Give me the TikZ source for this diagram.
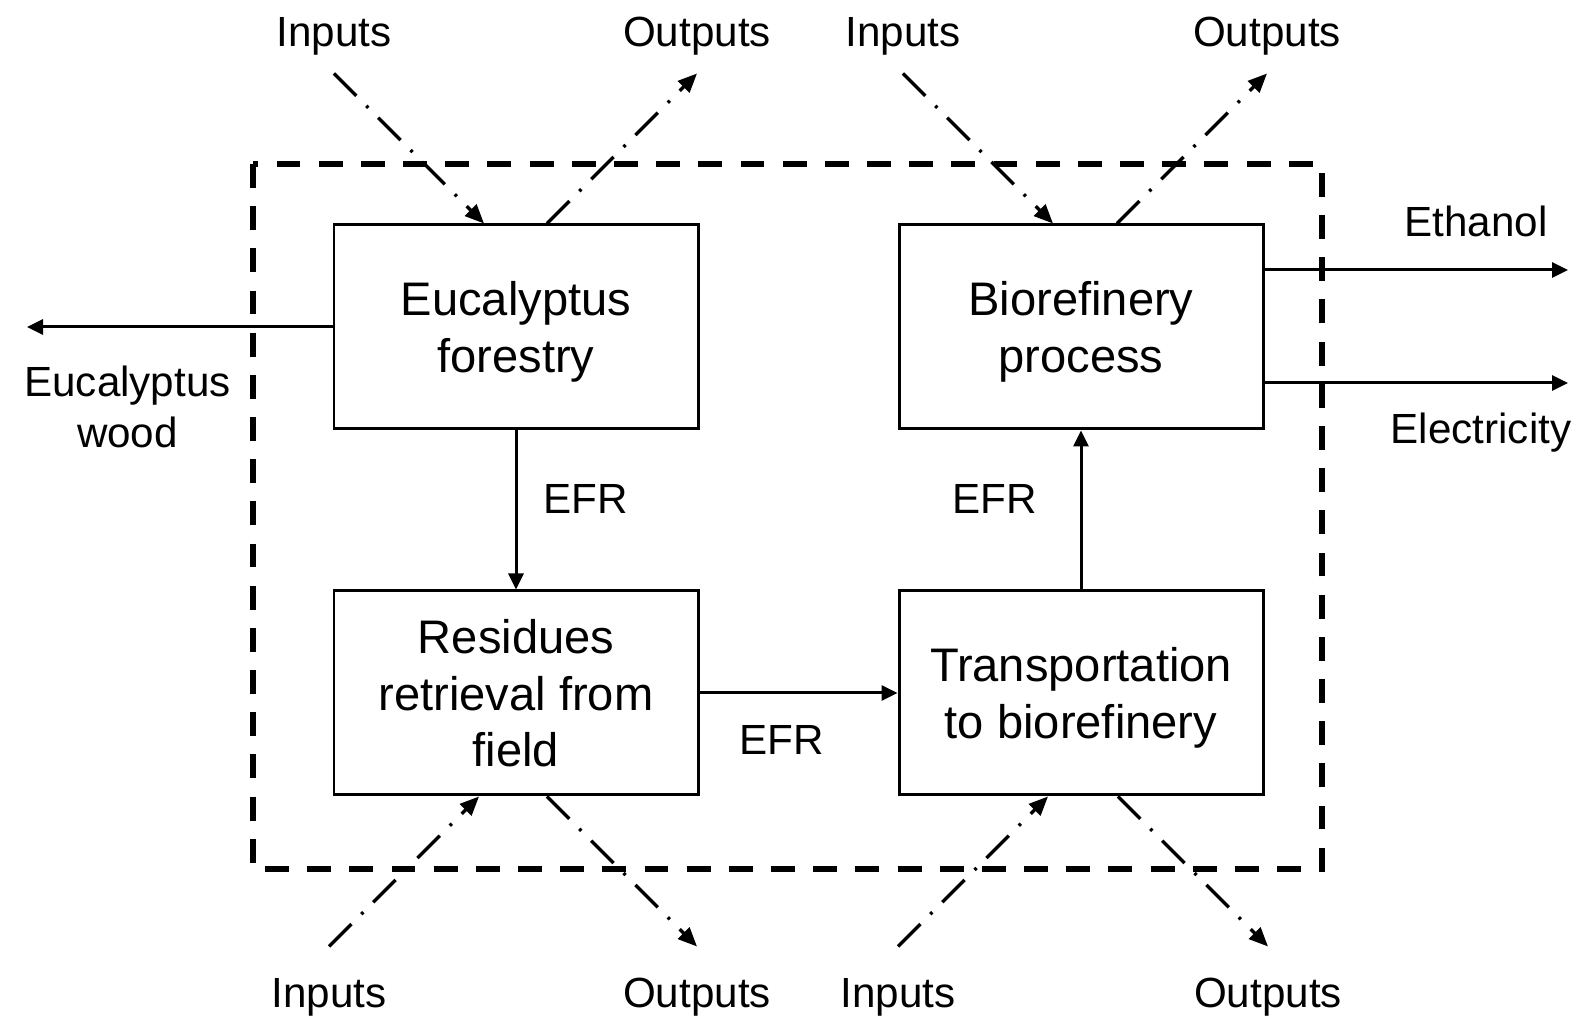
\documentclass[tikz,border=0pt]{standalone}
\usepackage{fontspec}
\setmainfont{Liberation Sans}
\usetikzlibrary{arrows.meta}
\tikzset{
   stage/.style={rectangle, draw, line width=0.85pt, minimum width=3.64cm, minimum height=2.04cm,
                 inner sep=0pt, text depth=0pt, align=center, font=\fontsize{13.4}{16.2}\selectfont},
   flow/.style={line width=0.85pt, -{Triangle[length=0.16cm,width=0.15cm]}},
   exchange/.style={line width=0.95pt, dash pattern=on 9pt off 4pt on 0.8pt off 4pt,
                    -{Triangle[length=0.19cm,width=0.16cm]}},
   boundary/.style={line width=1.45pt, dash pattern=on 6.8pt off 5.2pt},
   lbl/.style={inner sep=0pt, font=\fontsize{12}{14.4}\selectfont}
}

\begin{document}
\begin{tikzpicture}
\useasboundingbox (0,0) rectangle (15.88,10.23);
% system boundary
\draw[boundary] (2.53,8.59) rectangle (13.22,1.54);

% process stages
\node[stage] (fore) at (5.16,6.96) {Eucalyptus\\forestry};
\node[stage] (bioref) at (10.81,6.96) {Biorefinery\\process};
\node[stage] (resid) at (5.16,3.30) {Residues\\retrieval from\\field};
\node[stage] (trans) at (10.81,3.30) {Transportation\\to biorefinery};

% residue flow
\draw[flow] (fore) -- (resid);
\draw[flow] (resid) -- (trans);
\draw[flow] (trans) -- (bioref);
\node[lbl, anchor=base] (efr1) at (5.86,5.09) {EFR};
\node[lbl, anchor=base] (efr2) at (7.82,2.68) {EFR};
\node[lbl, anchor=base] (efr3) at (9.95,5.09) {EFR};

% products
\coordinate (woodend) at (0.27,6.96);
\draw[flow] (fore.west) -- (woodend);
\node[lbl, align=center] (wood) at (1.275,6.16) {Eucalyptus\\wood};
\coordinate (ethend) at (15.68,7.53);
\coordinate (elecend) at (15.68,6.40);
\draw[flow] (bioref.east |- ethend) -- (ethend);
\draw[flow] (bioref.east |- elecend) -- (elecend);
\node[lbl, anchor=base] (eth) at (14.76,7.86) {Ethanol};
\node[lbl, anchor=base] (elec) at (14.81,5.79) {Electricity};

% inputs and outputs of each stage
\foreach \b/\a/\s/\i/\o/\y in {fore/north/1/-0.32/0.31/9.76, bioref/north/1/-0.28/0.36/9.76,
                              resid/south/-1/-0.37/0.31/0.15, trans/south/-1/-0.33/0.37/0.15}{
   \coordinate (\b-in) at ([shift={(\i-1.5,\s*1.5)}]\b.\a);
   \coordinate (\b-out) at ([shift={(\o+1.5,\s*1.5)}]\b.\a);
   \draw[exchange] (\b-in) -- ([xshift=\i cm]\b.\a);
   \draw[exchange] ([xshift=\o cm]\b.\a) -- (\b-out);
   \node[lbl, anchor=base] (\b-inl) at (\b-in |- 0,\y) {Inputs};
   \node[lbl, anchor=base] (\b-outl) at (\b-out |- 0,\y) {Outputs};
}
\end{tikzpicture}
\end{document}
